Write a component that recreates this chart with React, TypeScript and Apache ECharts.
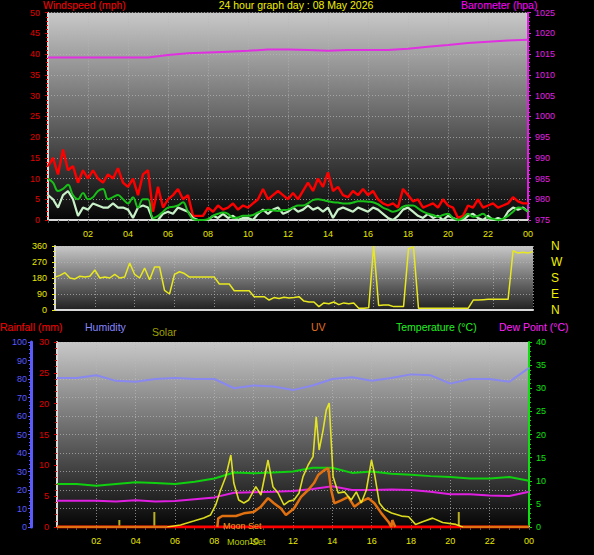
import React, { useEffect, useRef } from "react";
import * as echarts from "echarts";

// ---- Data (8 May 2026) ----
// wind samples every 15 minutes, 00:00 .. 24:00 (97 samples)
const WIND_STEP_HOURS = 0.25;
const windGust = [
  13, 15, 11, 17, 12, 13, 9, 12, 10, 12,
  10, 9, 11, 10, 12.5, 9, 8, 10, 6, 11,
  12, 2, 8, 3, 5, 6, 7.5, 5, 6, 1,
  1, 1, 3, 2, 3.5, 2.5, 3, 4, 2.5, 3.5,
  3, 4, 5, 7.5, 5, 6, 7, 6, 5, 6.5,
  5, 7, 9, 7, 10, 8, 11.5, 7, 8, 6,
  5.5, 7, 6, 7.5, 6, 7, 5, 4, 3.5, 4,
  3, 7.5, 6, 4.5, 5, 3, 3.5, 4, 3, 5,
  3.5, 3, 0.5, 1, 3.5, 3, 5, 3, 3.5, 4,
  3, 3.5, 4, 5.5, 4.5, 4, 4,
];
const windSpeed = [
  6, 5, 3, 6, 7, 5, 1, 3, 2.5, 4,
  3.5, 3, 3, 4, 3, 3, 2.5, 0.5, 3, 3.5,
  3, 0, 0, 1.5, 2, 1.5, 3, 2.5, 2, 0.5,
  0, 0, 0, 1, 0.5, 1.5, 0.5, 1, 0, 0.5,
  0.5, 0, 1.5, 2.5, 1.5, 2.5, 3, 1.5, 2, 3,
  2, 2.5, 3.5, 2.5, 3, 2, 3, 0.5, 2.5, 3,
  2.5, 2, 3, 2.5, 2, 3, 2.5, 1.5, 0.5, 0,
  1, 2.5, 3, 2, 1, 0.5, 1.5, 0.5, 1, 0,
  1, 0.5, 0, 0, 1, 1.5, 0.5, 0, 1, 0,
  0.5, 0, 2, 3, 2.5, 3, 2,
];
const windAvg = [
  10, 9, 7, 7.5, 8.5, 6, 5, 6.5, 5, 5.5,
  7, 7.5, 5, 5.5, 6, 5, 4, 5.5, 3, 5,
  5, 0.5, 1, 2, 3, 3.2, 3.5, 4.3, 2, 0.2,
  0, 0, 0.2, 1, 1.5, 1.8, 1.5, 0.5, 0.6, 1,
  1, 1.2, 1.8, 2.2, 2.5, 2.3, 2.2, 2.4, 2.5, 3,
  3.5, 3.5, 4, 4.8, 5, 4.8, 4.5, 4.3, 4.2, 4,
  4, 4.2, 4.5, 4.5, 4.4, 4.3, 3.8, 3, 2.5, 2,
  2.3, 3.2, 3.5, 3.5, 2.8, 2, 1.5, 1.2, 0.8, 1.2,
  1.5, 0.5, 0, 0.5, 1.5, 0.8, 1, 1.5, 0.5, 0.3,
  0, 0.3, 1, 2, 3, 2.8, 2,
];
const windDir = [
  185, 195, 210, 180, 175, 190, 185, 190, 225, 180,
  185, 180, 200, 180, 185, 264, 200, 180, 236, 170,
  242, 242, 110, 90, 200, 215, 205, 185, 185, 185,
  185, 185, 185, 146, 146, 146, 108, 108, 108, 108,
  75, 75, 75, 56, 70, 65, 72, 68, 70, 75,
  50, 45, 45, 19, 40, 35, 45, 30, 40, 35,
  40, 10, 10, 12, 360, 25, 28, 28, 19, 19,
  19, 345, 355, 10, 10, 10, 10, 10, 10, 10,
  10, 10, 10, 10, 56, 56, 58, 60, 60, 60,
  60, 60, 333, 320, 325, 320, 330,
];
// hourly samples 00..24 (25 samples)
const barometer = [
  1014.2, 1014.2, 1014.2, 1014.2, 1014.2, 1014.2, 1014.8, 1015.2, 1015.4, 1015.6,
  1015.8, 1016.1, 1016.1, 1016.0, 1015.8, 1016.0, 1016.0, 1016.0, 1016.3, 1016.8,
  1017.2, 1017.7, 1018.0, 1018.3, 1018.5,
];
const humidity = [
  80.5, 80.5, 82, 79, 78.5, 80, 80.5, 80, 80, 75,
  76.5, 76, 74, 76.5, 80, 81, 79, 80.5, 82.5, 82,
  77.5, 80, 80, 78.5, 86,
];
const temperature = [
  9.3, 9.3, 8.9, 9.3, 9.7, 9.5, 9.3, 9.8, 10.5, 11.8,
  11.6, 11.8, 12.0, 12.8, 12.8, 11.7, 12.0, 11.5, 11.3, 11.0,
  10.8, 10.5, 10.5, 10.8, 10.0,
];
const dewPoint = [
  5.7, 5.7, 5.7, 5.5, 5.8, 5.5, 5.6, 6.0, 6.4, 7.4,
  7.5, 7.6, 7.8, 8.2, 8.8, 8.0, 8.0, 8.1, 8.0, 7.6,
  7.1, 7.1, 6.8, 6.7, 7.6,
];
const rainfall = [
  0, 0, 0, 0, 0, 0, 0, 0, 0, 0, 0, 0, 0, 0, 0, 0, 0, 0, 0, 0, 0, 0, 0, 0, 0,
];
// solar radiation (W/m2) at irregular times (hours)
const solarTimes = [
  5.6, 6.28, 6.95, 7.46, 7.81, 8.07, 8.32, 8.58, 8.84, 8.99,
  9.24, 9.5, 9.75, 10.11, 10.37, 10.73, 10.98, 11.24, 11.54, 11.8,
  12.05, 12.31, 12.51, 12.77, 13.02, 13.18, 13.33, 13.53, 13.69, 13.84,
  14.04, 14.3, 14.61, 14.96, 15.22, 15.47, 15.73, 15.99, 16.14, 16.39,
  16.65, 17.01, 17.52, 17.88, 18.23, 18.59, 19.1, 19.61, 20.28, 20.63,
];
const solarValues = [
  0, 11, 32, 49, 65, 119, 200, 272, 389, 238,
  146, 130, 146, 218, 173, 362, 218, 184, 119, 140,
  146, 184, 272, 335, 380, 596, 416, 524, 632, 670,
  272, 184, 190, 146, 190, 130, 200, 362, 290, 130,
  95, 76, 59, 55, 14, 29, 48, 24, 14, 0,
];
const solarSpikeTimes = [3.17, 4.95, 20.43];
const solarSpikeValues = [38, 81, 81];
// UV index at irregular times (null = not drawn)
const uvTimes = [
  0, 5.6, 5.61, 8.15, 8.2, 8.4, 9.1, 9.5, 10.0, 10.37,
  10.73, 11.03, 11.39, 11.64, 12.05, 12.41, 12.77, 13.07, 13.28, 13.58,
  13.79, 13.94, 14.1, 14.45, 14.81, 15.12, 15.47, 15.83, 16.14, 16.5,
  16.85, 17.0, 17.05, 17.2, 17.21, 20.6, 24,
];
const uvValues = [
  0, 0, null, 0, 0.75, 0.95, 0.95, 1.18, 1.3, 1.76,
  2.5, 2.05, 1.6, 1.04, 1.6, 2.6, 3.2, 3.8, 4.5, 4.9,
  5.1, 3.2, 2.05, 2.3, 2.6, 1.76, 2.2, 2.5, 2.05, 1.18,
  0.46, 0, 0.6, 0, null, 0, 0,
];
const dirLetters: Record<number, string> = { 0: "N", 90: "E", 180: "S", 270: "W", 360: "N" };

const FONT = "Liberation Sans, Arial, sans-serif";

export default function App() {
  const ref = useRef<HTMLDivElement>(null);
  useEffect(() => {
    const chart = echarts.init(ref.current!, null, { renderer: "svg" });
    const grad = (bottom: string) =>
      new echarts.graphic.LinearGradient(0, 0, 0, 1, [
        { offset: 0, color: "#c8c8c8" },
        { offset: 1, color: bottom },
      ]);
    const q = (arr: number[]) => arr.map((v, i) => [i * WIND_STEP_HOURS, v]);
    const h = (arr: number[]) => arr.map((v, i) => [i, v]);
    const pairs = (t: number[], v: (number | null)[]) => t.map((x, i) => [x, v[i] === null ? "-" : v[i]]);
    const hourLabel = (v: number) => (v === 0 ? "" : String(v % 24).padStart(2, "0"));
    const dotted = { show: true, lineStyle: { color: "#b8b8b8", type: [1, 2] as any, width: 1, opacity: 0.7 } };
    const border = { show: true, lineStyle: { color: "#d8d8d8", width: 2 } };
    const xCommon = (grid: number, labels: boolean) => ({
      gridIndex: grid,
      type: "value",
      min: 0,
      max: 24,
      interval: 2,
      axisLine: border,
      axisTick: { show: labels, length: 3, lineStyle: { color: "#505050" } },
      minorTick: { show: labels, splitNumber: 4, length: 3, lineStyle: { color: "#505050" } },
      axisLabel: { show: labels, color: "#e8e800", fontSize: 9, margin: 9, fontFamily: FONT, formatter: hourLabel },
      splitLine: dotted,
    });
    const yAx = (o: any) => ({
      type: "value",
      axisLabel: { color: o.color, fontSize: 9, margin: o.margin ?? 8, fontFamily: FONT, formatter: (v: number) => String(v) },
      axisTick: { show: true, length: 3, lineStyle: { color: o.color } },
      minorTick: { show: true, splitNumber: o.minor ?? 5, length: 2, lineStyle: { color: o.color } },
      axisLine: o.line ?? border,
      splitLine: o.split ? dotted : { show: false },
      ...o.rest,
    });
    const line = (name: string, x: number, y: number, data: any[], color: string, width: number, extra: any = {}) => ({
      name,
      type: "line",
      xAxisIndex: x,
      yAxisIndex: y,
      data,
      symbol: "none",
      lineStyle: { color, width },
      itemStyle: { color },
      ...extra,
    });
    const txt = (text: string, x: number, y: number, fill: string, fontSize = 10.5, align = "left") => ({
      type: "text",
      x,
      y,
      z: 100,
      style: { text, fill, fontSize, fontFamily: FONT, textAlign: align, textVerticalAlign: "middle" },
    });

    chart.setOption({
      animation: false,
      backgroundColor: "#000",
      grid: [
        { left: 48, top: 12.7, width: 480, height: 207.3, show: true, backgroundColor: grad("#050505"), borderWidth: 0 },
        { left: 55, top: 246, width: 478, height: 64, show: true, backgroundColor: grad("#202020"), borderWidth: 0 },
        { left: 57, top: 342, width: 472, height: 185, show: true, backgroundColor: grad("#050505"), borderWidth: 0 },
      ],
      xAxis: [xCommon(0, true), xCommon(1, false), xCommon(2, true)],
      yAxis: [
        yAx({ color: "#e00000", margin: 8, split: true, rest: { gridIndex: 0, position: "left", min: 0, max: 50, interval: 5 } }),
        yAx({ color: "#e020e0", margin: 7, line: { show: true, lineStyle: { color: "#e020e0", width: 2 } }, rest: { gridIndex: 0, position: "right", min: 975, max: 1025, interval: 5 } }),
        yAx({ color: "#e8e800", margin: 8, minor: 3, split: true, rest: { gridIndex: 1, position: "left", min: 0, max: 360, interval: 90 } }),
        {
          gridIndex: 1, type: "value", position: "right", min: 0, max: 360, interval: 90,
          axisLine: { show: false }, axisTick: { show: false }, splitLine: { show: false },
          axisLabel: { color: "#f0f000", fontSize: 12, margin: 18, fontFamily: FONT, formatter: (v: number) => dirLetters[v] ?? "" },
        },
        yAx({ color: "#e00000", margin: 8, rest: { gridIndex: 2, position: "left", min: 0, max: 30, interval: 5 } }),
        yAx({ color: "#5a5aff", margin: 4, split: true, line: { show: true, lineStyle: { color: "#5a5aff", width: 3 } }, rest: { gridIndex: 2, position: "left", offset: 26, min: 0, max: 100, interval: 10 } }),
        yAx({ color: "#10e010", margin: 7, line: { show: true, lineStyle: { color: "#10e010", width: 2 } }, rest: { gridIndex: 2, position: "right", min: 0, max: 40, interval: 5 } }),
        { gridIndex: 2, type: "value", show: false, min: 0, max: 1000 },
        { gridIndex: 2, type: "value", show: false, min: 0, max: 16 },
      ],
      series: [
        line("Barometer", 0, 1, h(barometer), "#e030e0", 2),
        line("Wind Gust", 0, 0, q(windGust), "#ff0000", 2.4),
        line("Wind Speed", 0, 0, q(windSpeed), "#c8f0c8", 2.2),
        line("Average Wind", 0, 0, q(windAvg), "#18c018", 2, { smooth: 0.4 }),
        line("Wind Direction", 1, 2, q(windDir), "#e8e820", 1.5),
        line("Humidity", 2, 5, h(humidity), "#8888f0", 2),
        line("Temperature", 2, 6, h(temperature), "#10d010", 2),
        line("Dew Point", 2, 6, h(dewPoint), "#e020e0", 2),
        line("Rainfall", 2, 4, h(rainfall), "#ff0000", 3),
        line("UV", 2, 8, pairs(uvTimes, uvValues), "#e07010", 2.5, { connectNulls: false }),
        line("Solar", 2, 7, pairs(solarTimes, solarValues), "#f0f020", 1.6, { lineStyle: { color: "#f0f020", width: 1.6, opacity: 0.9 } }),
        {
          name: "Solar spikes",
          type: "bar",
          xAxisIndex: 2,
          yAxisIndex: 7,
          barWidth: 2,
          data: pairs(solarSpikeTimes, solarSpikeValues),
          itemStyle: { color: "#b8b020" },
        },
      ],
      graphic: [
        txt("Windspeed (mph)", 43, 5, "#ff0000"),
        txt("24 hour graph day : 08 May 2026", 296, 5, "#f0f000", 10.5, "center"),
        txt("Barometer (hpa)", 461, 5, "#ff00ff"),
        txt("Rainfall (mm)", 0, 327, "#ff0000"),
        txt("Humidity", 85, 327, "#8888ff"),
        txt("Solar", 152, 332, "#a0a000"),
        txt("UV", 311, 327, "#e07020"),
        txt("Temperature (°C)", 396, 327, "#20f020"),
        txt("Dew Point (°C)", 499, 327, "#ff20ff"),
        txt("Moon Set", 223, 526, "#e8a020", 9),
        txt("Moon Set", 227, 542, "#b8d000", 9),
      ],
    });
    return () => chart.dispose();
  }, []);
  return <div ref={ref} style={{ position: "absolute", left: 0, top: 0, width: 594, height: 555, background: "#000" }} />;
}
